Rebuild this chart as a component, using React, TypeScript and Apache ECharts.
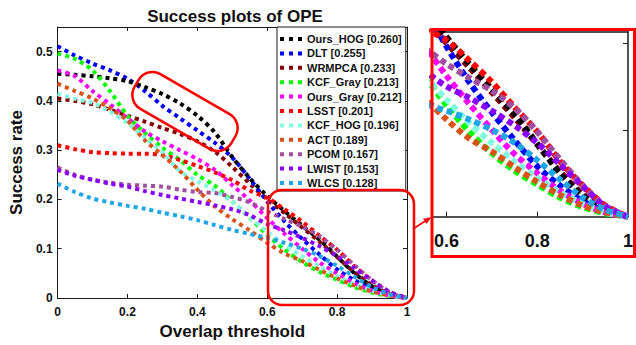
import React, { useEffect, useRef } from 'react';
import * as echarts from 'echarts';

// Overlap thresholds (x)
const thresholds = [0, 0.05, 0.1, 0.15, 0.2, 0.25, 0.3, 0.35, 0.4, 0.45, 0.5, 0.55, 0.6, 0.65, 0.7, 0.75, 0.8, 0.85, 0.9, 0.95, 1];

// Tracker names and AUC scores (legend)
const trackerNames = ['Ours_HOG', 'DLT', 'WRMPCA', 'KCF_Gray', 'Ours_Gray', 'LSST', 'KCF_HOG', 'ACT', 'PCOM', 'LWIST', 'WLCS'];
const aucScores = ['0.260', '0.255', '0.233', '0.213', '0.212', '0.201', '0.196', '0.189', '0.167', '0.153', '0.128'];

// Success rates
const oursHOG = [0.455, 0.453, 0.450, 0.446, 0.440, 0.428, 0.414, 0.395, 0.370, 0.336, 0.286, 0.243, 0.207, 0.176, 0.147, 0.118, 0.084, 0.050, 0.024, 0.008, 0];
const dlt = [0.511, 0.492, 0.476, 0.462, 0.445, 0.420, 0.390, 0.365, 0.340, 0.315, 0.285, 0.242, 0.196, 0.155, 0.120, 0.088, 0.058, 0.036, 0.018, 0.006, 0];
const wrmpca = [0.405, 0.400, 0.393, 0.382, 0.370, 0.358, 0.345, 0.333, 0.318, 0.297, 0.266, 0.232, 0.200, 0.172, 0.143, 0.114, 0.083, 0.052, 0.026, 0.008, 0];
const kcfGray = [0.496, 0.485, 0.462, 0.420, 0.370, 0.335, 0.305, 0.280, 0.250, 0.228, 0.196, 0.163, 0.128, 0.098, 0.073, 0.053, 0.037, 0.022, 0.011, 0.004, 0];
const oursGray = [0.462, 0.450, 0.420, 0.393, 0.365, 0.338, 0.318, 0.300, 0.282, 0.260, 0.229, 0.198, 0.162, 0.130, 0.100, 0.072, 0.050, 0.030, 0.015, 0.005, 0];
const lsst = [0.310, 0.302, 0.296, 0.294, 0.293, 0.293, 0.290, 0.280, 0.268, 0.255, 0.239, 0.218, 0.203, 0.180, 0.155, 0.126, 0.098, 0.064, 0.036, 0.013, 0];
const kcfHOG = [0.415, 0.404, 0.396, 0.378, 0.355, 0.325, 0.296, 0.258, 0.237, 0.218, 0.195, 0.163, 0.135, 0.108, 0.085, 0.064, 0.045, 0.028, 0.015, 0.005, 0];
const act = [0.435, 0.420, 0.405, 0.385, 0.360, 0.320, 0.290, 0.258, 0.220, 0.186, 0.160, 0.137, 0.112, 0.090, 0.075, 0.057, 0.040, 0.025, 0.013, 0.005, 0];
const pcom = [0.265, 0.250, 0.240, 0.234, 0.230, 0.228, 0.226, 0.220, 0.215, 0.213, 0.205, 0.194, 0.176, 0.160, 0.145, 0.125, 0.098, 0.066, 0.036, 0.012, 0];
const lwist = [0.260, 0.248, 0.240, 0.232, 0.226, 0.217, 0.209, 0.202, 0.195, 0.188, 0.180, 0.168, 0.150, 0.137, 0.122, 0.105, 0.085, 0.060, 0.035, 0.012, 0];
const wlcs = [0.232, 0.215, 0.202, 0.194, 0.187, 0.181, 0.173, 0.166, 0.158, 0.148, 0.138, 0.130, 0.122, 0.112, 0.100, 0.085, 0.065, 0.043, 0.022, 0.008, 0];

const seriesValues = [oursHOG, dlt, wrmpca, kcfGray, oursGray, lsst, kcfHOG, act, pcom, lwist, wlcs];

// Tick labels
const mainXTicks = ['0', '0.2', '0.4', '0.6', '0.8', '1'];
const mainYTicks = ['0', '0.1', '0.2', '0.3', '0.4', '0.5'];
const insetXTicks = [0.6, 0.8, 1];

const colors = ['#000000', '#0000ff', '#850000', '#00ff00', '#ff00ff', '#ff0000', '#80ffe0', '#d95319', '#a0509e', '#8a00ff', '#1fa6e8'];
// drawing order (higher drawn later)
const drawOrder = [3, 2, 0, 4, 5, 6, 7, 8, 9, 10, 11];

const FONT = '"Liberation Sans", Arial, Helvetica, sans-serif';
const AXIS = '#1a1a1a';
const RED = '#ff0000';

export default function App() {
  const ref = useRef<HTMLDivElement>(null);

  useEffect(() => {
    if (!ref.current) return;
    const chart = echarts.init(ref.current, null, { renderer: 'svg' });

    const mainSeries = trackerNames.map((name, k) => ({
      type: 'line',
      name,
      xAxisIndex: 0,
      yAxisIndex: 0,
      data: thresholds.map((t, i) => [t, seriesValues[k][i]]),
      showSymbol: false,
      symbol: 'none',
      smooth: 0.3,
      silent: true,
      z: 2,
      zlevel: 0,
      itemStyle: { color: colors[k] },
      lineStyle: { color: colors[k], width: 4, type: [4, 4], cap: 'butt' },
    }));

    const insetSeries = trackerNames.map((name, k) => ({
      type: 'line',
      name,
      xAxisIndex: 2,
      yAxisIndex: 2,
      data: thresholds.map((t, i) => [t, seriesValues[k][i]]),
      showSymbol: false,
      symbol: 'none',
      smooth: 0.3,
      silent: true,
      clip: true,
      z: 2,
      itemStyle: { color: colors[k] },
      lineStyle: { color: colors[k], width: 6, type: [6, 4], cap: 'butt' },
    }));

    const order = trackerNames.map((_, k) => k).sort((a, b) => drawOrder[a] - drawOrder[b]);
    const orderedSeries = [
      ...order.map((k) => mainSeries[k]),
      ...order.map((k) => insetSeries[k]),
    ];

    const scoreOf: Record<string, string> = {};
    trackerNames.forEach((n, i) => (scoreOf[n] = aucScores[i]));

    const isTenth = (v: number) => Math.abs(v * 10 - Math.round(v * 10)) < 1e-6;

    const option = {
      animation: false,
      backgroundColor: '#ffffff',
      textStyle: { fontFamily: FONT },
      title: {
        text: 'Success plots of OPE',
        left: 230,
        textAlign: 'center',
        top: 3,
        textStyle: { fontSize: 17, fontWeight: 'bold', color: '#111', fontFamily: FONT },
      },
      legend: {
        data: trackerNames,
        orient: 'vertical',
        left: 277,
        top: 27,
        padding: [6, 4, 2, 3],
        itemGap: 2.4,
        itemWidth: 22,
        itemHeight: 4,
        icon: 'path://M0,0h4v4h-4zM9,0h4v4h-4zM18,0h4v4h-4z',
        backgroundColor: '#ffffff',
        borderColor: AXIS,
        borderWidth: 1,
        selectedMode: false,
        z: 10,
        formatter: (name: string) => `${name} [${scoreOf[name]}]`,
        textStyle: { fontSize: 11, fontWeight: 'bold', color: '#111', fontFamily: FONT, lineHeight: 12 },
      },
      grid: [
        { left: 54, top: 27, width: 353, height: 271 },
        { left: 432, top: 31.7, width: 200, height: 185 },
      ],
      xAxis: [
        {
          type: 'value', gridIndex: 0, min: 0, max: 1, interval: 0.2, position: 'bottom',
          name: 'Overlap threshold', nameLocation: 'middle', nameGap: 22,
          nameTextStyle: { fontSize: 17, fontWeight: 'bold', color: '#111', fontFamily: FONT },
          axisLine: { show: true, onZero: false, lineStyle: { color: AXIS, width: 1 } },
          axisTick: { show: true, inside: true, length: 4, lineStyle: { color: AXIS } },
          axisLabel: {
            show: true, margin: 8, fontSize: 12, fontWeight: 'bold', color: '#111', fontFamily: FONT,
            formatter: (v: number) => mainXTicks[Math.round(v * 5)] ?? '',
          },
          splitLine: { show: false },
        },
        {
          type: 'value', gridIndex: 0, min: 0, max: 1, interval: 0.2, position: 'top',
          axisLine: { show: true, onZero: false, lineStyle: { color: AXIS, width: 1 } },
          axisTick: { show: true, inside: true, length: 4, lineStyle: { color: AXIS } },
          axisLabel: { show: false },
          splitLine: { show: false },
        },
        {
          type: 'value', gridIndex: 1, min: 0.568, max: 1, position: 'bottom',
          axisLine: { show: true, onZero: false, lineStyle: { color: AXIS, width: 1.5 } },
          axisTick: { show: true, inside: true, length: 5, customValues: [0.6, 0.8], lineStyle: { color: AXIS } },
          axisLabel: {
            show: true, margin: 15, fontSize: 18, fontWeight: 'bold', color: '#111', fontFamily: FONT,
            customValues: insetXTicks, showMinLabel: true, showMaxLabel: true,
            formatter: (v: number) => (Math.abs(v - 1) < 1e-6 ? '1' : v.toFixed(1)),
          },
          splitLine: { show: false },
        },
        {
          type: 'value', gridIndex: 1, min: 0.568, max: 1, position: 'top',
          axisLine: { show: true, onZero: false, lineStyle: { color: AXIS, width: 1.5 } },
          axisTick: { show: false },
          axisLabel: { show: false },
          splitLine: { show: false },
        },
      ],
      yAxis: [
        {
          type: 'value', gridIndex: 0, min: 0, max: 0.55, interval: 0.1, position: 'left',
          name: 'Success rate', nameLocation: 'middle', nameGap: 30,
          nameTextStyle: { fontSize: 17, fontWeight: 'bold', color: '#111', fontFamily: FONT },
          axisLine: { show: true, onZero: false, lineStyle: { color: AXIS, width: 1 } },
          axisTick: { show: true, inside: true, length: 4, lineStyle: { color: AXIS } },
          axisLabel: {
            show: true, margin: 5, fontSize: 12, fontWeight: 'bold', color: '#111', fontFamily: FONT,
            showMaxLabel: false,
            formatter: (v: number) => (isTenth(v) ? mainYTicks[Math.round(v * 10)] ?? '' : ''),
          },
          splitLine: { show: false },
        },
        {
          type: 'value', gridIndex: 0, min: 0, max: 0.55, interval: 0.1, position: 'right',
          axisLine: { show: true, onZero: false, lineStyle: { color: AXIS, width: 1 } },
          axisTick: { show: true, inside: true, length: 4, lineStyle: { color: AXIS } },
          axisLabel: { show: false },
          splitLine: { show: false },
        },
        {
          type: 'value', gridIndex: 1, min: 0, max: 0.213, position: 'right',
          axisLine: { show: true, onZero: false, lineStyle: { color: AXIS, width: 1.5 } },
          axisTick: { show: true, inside: true, length: 5, customValues: [0.1, 0.2], lineStyle: { color: AXIS } },
          axisLabel: { show: false },
          splitLine: { show: false },
        },
      ],
      series: orderedSeries,
      graphic: [
        {
          type: 'rect', x: 185, y: 111.5, rotation: -Math.PI / 6, z: 100,
          shape: { x: -56, y: -20, width: 112, height: 40, r: 16 },
          style: { fill: 'none', stroke: RED, lineWidth: 2.5 },
        },
        {
          type: 'rect', z: 100,
          shape: { x: 268, y: 190, width: 146, height: 115, r: 14 },
          style: { fill: 'none', stroke: RED, lineWidth: 2.5 },
        },
        {
          type: 'rect', z: 100,
          shape: { x: 432, y: 29.5, width: 202.5, height: 227 },
          style: { fill: 'none', stroke: RED, lineWidth: 3 },
        },
        {
          type: 'line', z: 100,
          shape: { x1: 413, y1: 229, x2: 426, y2: 220.5 },
          style: { stroke: RED, lineWidth: 1.5 },
        },
        {
          type: 'polygon', z: 100,
          shape: { points: [[431, 217.5], [423.5, 219], [426.5, 223.5]] },
          style: { fill: RED, stroke: RED, lineWidth: 0.5 },
        },
      ],
    };

    chart.setOption(option as any);
    return () => chart.dispose();
  }, []);

  return (
    <div
      ref={ref}
      style={{ position: 'absolute', left: 0, top: 0, width: 636, height: 345, background: '#fff' }}
    />
  );
}
